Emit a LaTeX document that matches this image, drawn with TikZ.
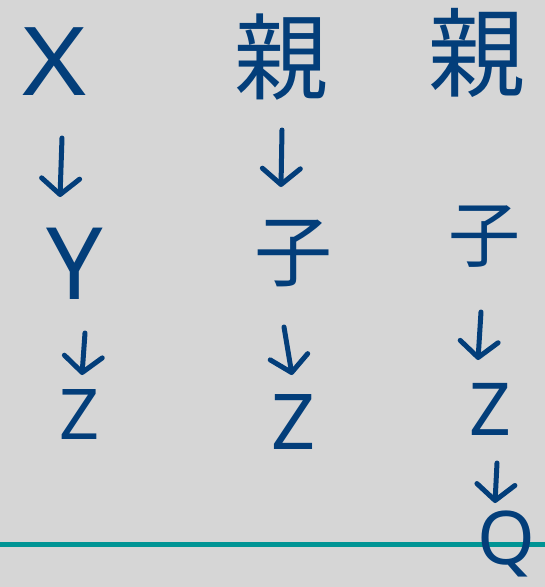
\documentclass[tikz,border=0pt]{standalone}
\usepackage{fontspec}
\setmainfont{Noto Sans}
\newfontfamily\cjkfont{Noto Sans CJK JP}
\usetikzlibrary{arrows.meta}
\definecolor{ink}{RGB}{3,62,122}
\definecolor{bg}{RGB}{214,214,214}
\definecolor{teal2}{RGB}{0,148,148}
\tikzset{
  glyph/.style={inner sep=0pt, text=ink},
  handarrow/.style={draw=ink, line width=5pt, line cap=round,
    -{Straight Barb[length=16pt, width=38pt, line width=5pt, round]}},
}
\newcommand{\fs}[1]{\fontsize{#1}{#1}\selectfont}
\begin{document}
\begin{tikzpicture}[x=1pt, y=-1pt]
\useasboundingbox (0,0) rectangle (545,587);
\clip (0,0) rectangle (545,587);
\fill[bg] (0,0) rectangle (545,587);
% teal rule
\coordinate (ruleL) at (0,544);
\coordinate (ruleR) at (545,544);
\draw[teal2, line width=5pt] (ruleL) -- (ruleR);
% column 1
\node[glyph, font=\fs{95}, xscale=1.15] (x1) at (55,62) {X};
\node[glyph, font=\fs{100}] (y1) at (75,264) {Y};
\node[glyph, font=\fs{70}] (z1) at (80,415) {Z};
% column 2
\node[glyph, font=\cjkfont\fs{94}] (oya2) at (281,57) {親};
\node[glyph, font=\cjkfont\fs{78}] (ko2) at (293,254) {子};
\node[glyph, font=\fs{77}] (z2) at (294,422) {Z};
% column 3
\node[glyph, font=\cjkfont\fs{97}] (oya3) at (477,53) {親};
\node[glyph, font=\cjkfont\fs{72}] (ko3) at (484,237) {子};
\node[glyph, font=\fs{73}] (z3) at (490,409) {Z};
\node[glyph, font=\fs{74}, anchor=north] (q3) at (506,511) {Q};
% arrows
\draw[handarrow] ([shift={(7,76)}]x1.center) -- ([shift={(-15,-67)}]y1.center);
\draw[handarrow] ([shift={(10,69)}]y1.center) -- ([shift={(2,-40)}]z1.center);
\draw[handarrow] ([shift={(1,73)}]oya2.center) -- ([shift={(-12,-67)}]ko2.center);
\draw[handarrow] ([shift={(-9,73)}]ko2.center) -- ([shift={(-2,-47)}]z2.center);
\draw[handarrow] ([shift={(-3,75)}]ko3.center) -- ([shift={(-12,-49)}]z3.center);
\draw[handarrow] ([shift={(7,54)}]z3.center) -- ([shift={(-11,-8)}]q3.north);
\end{tikzpicture}
\end{document}
